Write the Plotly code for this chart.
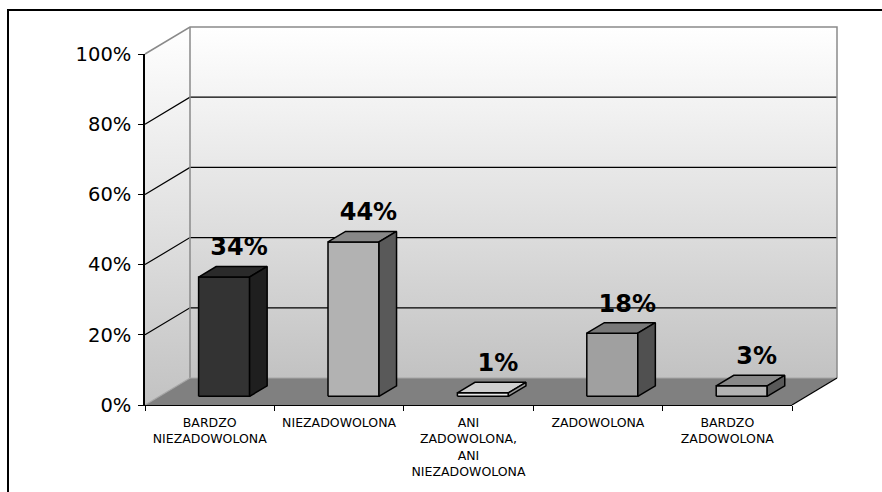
import plotly.graph_objects as go

# ---------------- data ----------------
categories = ["BARDZO<br>NIEZADOWOLONA", "NIEZADOWOLONA",
              "ANI<br>ZADOWOLONA,<br>ANI<br>NIEZADOWOLONA",
              "ZADOWOLONA", "BARDZO<br>ZADOWOLONA"]
values = [34, 44, 1, 18, 3]
y_ticks = [0, 20, 40, 60, 80, 100]
y_tick_labels = ["0%", "20%", "40%", "60%", "80%", "100%"]
value_labels = [f"{v}%" for v in values]

# ---------------- styles ----------------
front_colors = ["#333333", "#b2b2b2", "#e6e6e6", "#a0a0a0", "#b2b2b2"]
top_colors = ["#2a2a2a", "#888888", "#cfcfcf", "#787878", "#888888"]
side_colors = ["#1f1f1f", "#595959", "#9a9a9a", "#505050", "#595959"]
FONT = "DejaVu Sans"

# ---------------- layout geometry (pixels) ----------------
W, H = 882, 492
PX_L, PX_R, PX_B, PX_T = 145, 792, 405, 54
DEPTH_PX_X, DEPTH_PX_Y = 45, 27
BAR_PX_W = 51

n = len(categories)
ux = (PX_R - PX_L) / n          # px per category unit
uy = (PX_B - PX_T) / 100.0      # px per percent
DX = DEPTH_PX_X / ux
DY = DEPTH_PX_Y / uy
BW = BAR_PX_W / ux
F0, FD = 0.32, 0.39             # bar front depth fraction, bar depth fraction

x_lo, x_hi = -0.5, n - 0.5
gx_range = [x_lo - PX_L / ux, x_lo + (W - PX_L) / ux]
gy_range = [-(H - PX_B) / uy, PX_B / uy]
ymax = y_ticks[-1]

fig = go.Figure()


def poly(xs, ys, fill=None, line_color="black", line_width=1.0, gradient=None):
    kw = dict(x=xs + [xs[0]], y=ys + [ys[0]], mode="lines",
              line=dict(color=line_color, width=line_width),
              hoverinfo="skip", showlegend=False, xaxis="x", yaxis="y")
    if fill is not None or gradient is not None:
        kw["fill"] = "toself"
        if fill is not None:
            kw["fillcolor"] = fill
        if gradient is not None:
            kw["fillgradient"] = gradient
    fig.add_trace(go.Scatter(**kw))


wall_grad = dict(type="vertical", colorscale=[[0, "#c2c2c2"], [0.5, "#e2e2e2"], [1, "#ffffff"]])

# left side wall
poly([x_lo, x_lo + DX, x_lo + DX, x_lo], [0, DY, ymax + DY, ymax],
     line_color="rgba(0,0,0,0)", line_width=0, gradient=wall_grad)
# back wall
poly([x_lo + DX, x_hi + DX, x_hi + DX, x_lo + DX], [DY, DY, ymax + DY, ymax + DY],
     line_color="rgba(0,0,0,0)", line_width=0, gradient=wall_grad)
# floor
poly([x_lo, x_hi, x_hi + DX, x_lo + DX], [0, 0, DY, DY], fill="#808080",
     line_color="rgba(0,0,0,0)", line_width=0)

# gridlines on walls
gxs, gys = [], []
for t in y_ticks[1:-1]:
    gxs += [x_lo, x_lo + DX, x_hi + DX, None]
    gys += [t, t + DY, t + DY, None]
fig.add_trace(go.Scatter(x=gxs, y=gys, mode="lines", line=dict(color="black", width=1.2),
                         hoverinfo="skip", showlegend=False))

# wall borders (gray)
fig.add_trace(go.Scatter(
    x=[x_lo, x_lo + DX, x_hi + DX, x_hi + DX, None, x_lo + DX, x_lo + DX],
    y=[ymax, ymax + DY, ymax + DY, DY, None, ymax + DY, DY],
    mode="lines", line=dict(color="#8a8a8a", width=1.5), hoverinfo="skip", showlegend=False))
fig.add_trace(go.Scatter(
    x=[x_lo, x_lo + DX, x_hi + DX], y=[0, DY, DY],
    mode="lines", line=dict(color="#a6a6a6", width=1.2), hoverinfo="skip", showlegend=False))
# floor right edge
fig.add_trace(go.Scatter(x=[x_hi, x_hi + DX], y=[0, DY], mode="lines",
                         line=dict(color="black", width=1.2), hoverinfo="skip", showlegend=False))

# bars
ddx, ddy = FD * DX, FD * DY
lab_x, lab_y = [], []
for i, v in enumerate(values):
    xl = i - BW / 2 + F0 * DX
    xr = i + BW / 2 + F0 * DX
    yb = F0 * DY
    yt = yb + v
    poly([xl, xr, xr, xl], [yb, yb, yt, yt], fill=front_colors[i], line_width=1.5)
    poly([xl, xr, xr + ddx, xl + ddx], [yt, yt, yt + ddy, yt + ddy], fill=top_colors[i], line_width=1.5)
    poly([xr, xr + ddx, xr + ddx, xr], [yb, yb + ddy, yt + ddy, yt], fill=side_colors[i], line_width=1.5)
    lab_x.append(i + F0 * DX + 0.85 * ddx)
    lab_y.append(yt + ddy + 17 / uy)

fig.add_trace(go.Scatter(x=lab_x, y=lab_y, mode="text", text=value_labels,
                         textposition="middle center",
                         textfont=dict(family=FONT, size=24, color="black", weight="bold"),
                         hoverinfo="skip", showlegend=False))

# real axes subplot (on top)
fig.add_trace(go.Scatter(x=categories, y=values, mode="markers", marker=dict(opacity=0, size=1),
                         hoverinfo="skip", showlegend=False, xaxis="x2", yaxis="y2"))

fig.update_layout(
    width=W, height=H, autosize=False,
    margin=dict(l=0, r=0, t=0, b=0, pad=0, autoexpand=False),
    paper_bgcolor="white", plot_bgcolor="rgba(0,0,0,0)",
    showlegend=False, hovermode=False,
    xaxis=dict(domain=[0, 1], range=gx_range, visible=False, fixedrange=True, automargin=False),
    yaxis=dict(domain=[0, 1], range=gy_range, visible=False, fixedrange=True, automargin=False),
    xaxis2=dict(domain=[PX_L / W, PX_R / W], anchor="y2", type="category",
                categoryorder="array", categoryarray=categories, range=[-0.5, n - 0.5],
                tickson="boundaries", ticks="outside", ticklen=5, tickcolor="black", tickwidth=1.2,
                showline=True, linecolor="black", linewidth=1.2, showgrid=False, zeroline=False,
                tickfont=dict(family=FONT, size=12.5, color="black"), fixedrange=True,
                ticklabelstandoff=6, automargin=False),
    yaxis2=dict(domain=[(H - PX_B) / H, (H - PX_T) / H], anchor="x2", range=[0, ymax],
                tickmode="array", tickvals=y_ticks, ticktext=y_tick_labels,
                ticks="outside", ticklen=5, tickcolor="black", tickwidth=1.2,
                showline=True, linecolor="black", linewidth=1.5, showgrid=False, zeroline=False,
                tickfont=dict(family=FONT, size=19.5, color="black"), fixedrange=True,
                ticklabelstandoff=3, automargin=False),
    shapes=[dict(type="path", xref="paper", yref="paper",
                 path=f"M 1,{1 - 10 / H} L {8 / W},{1 - 10 / H} L {8 / W},0",
                 line=dict(color="black", width=2))],
)

fig.write_html("out.html")
